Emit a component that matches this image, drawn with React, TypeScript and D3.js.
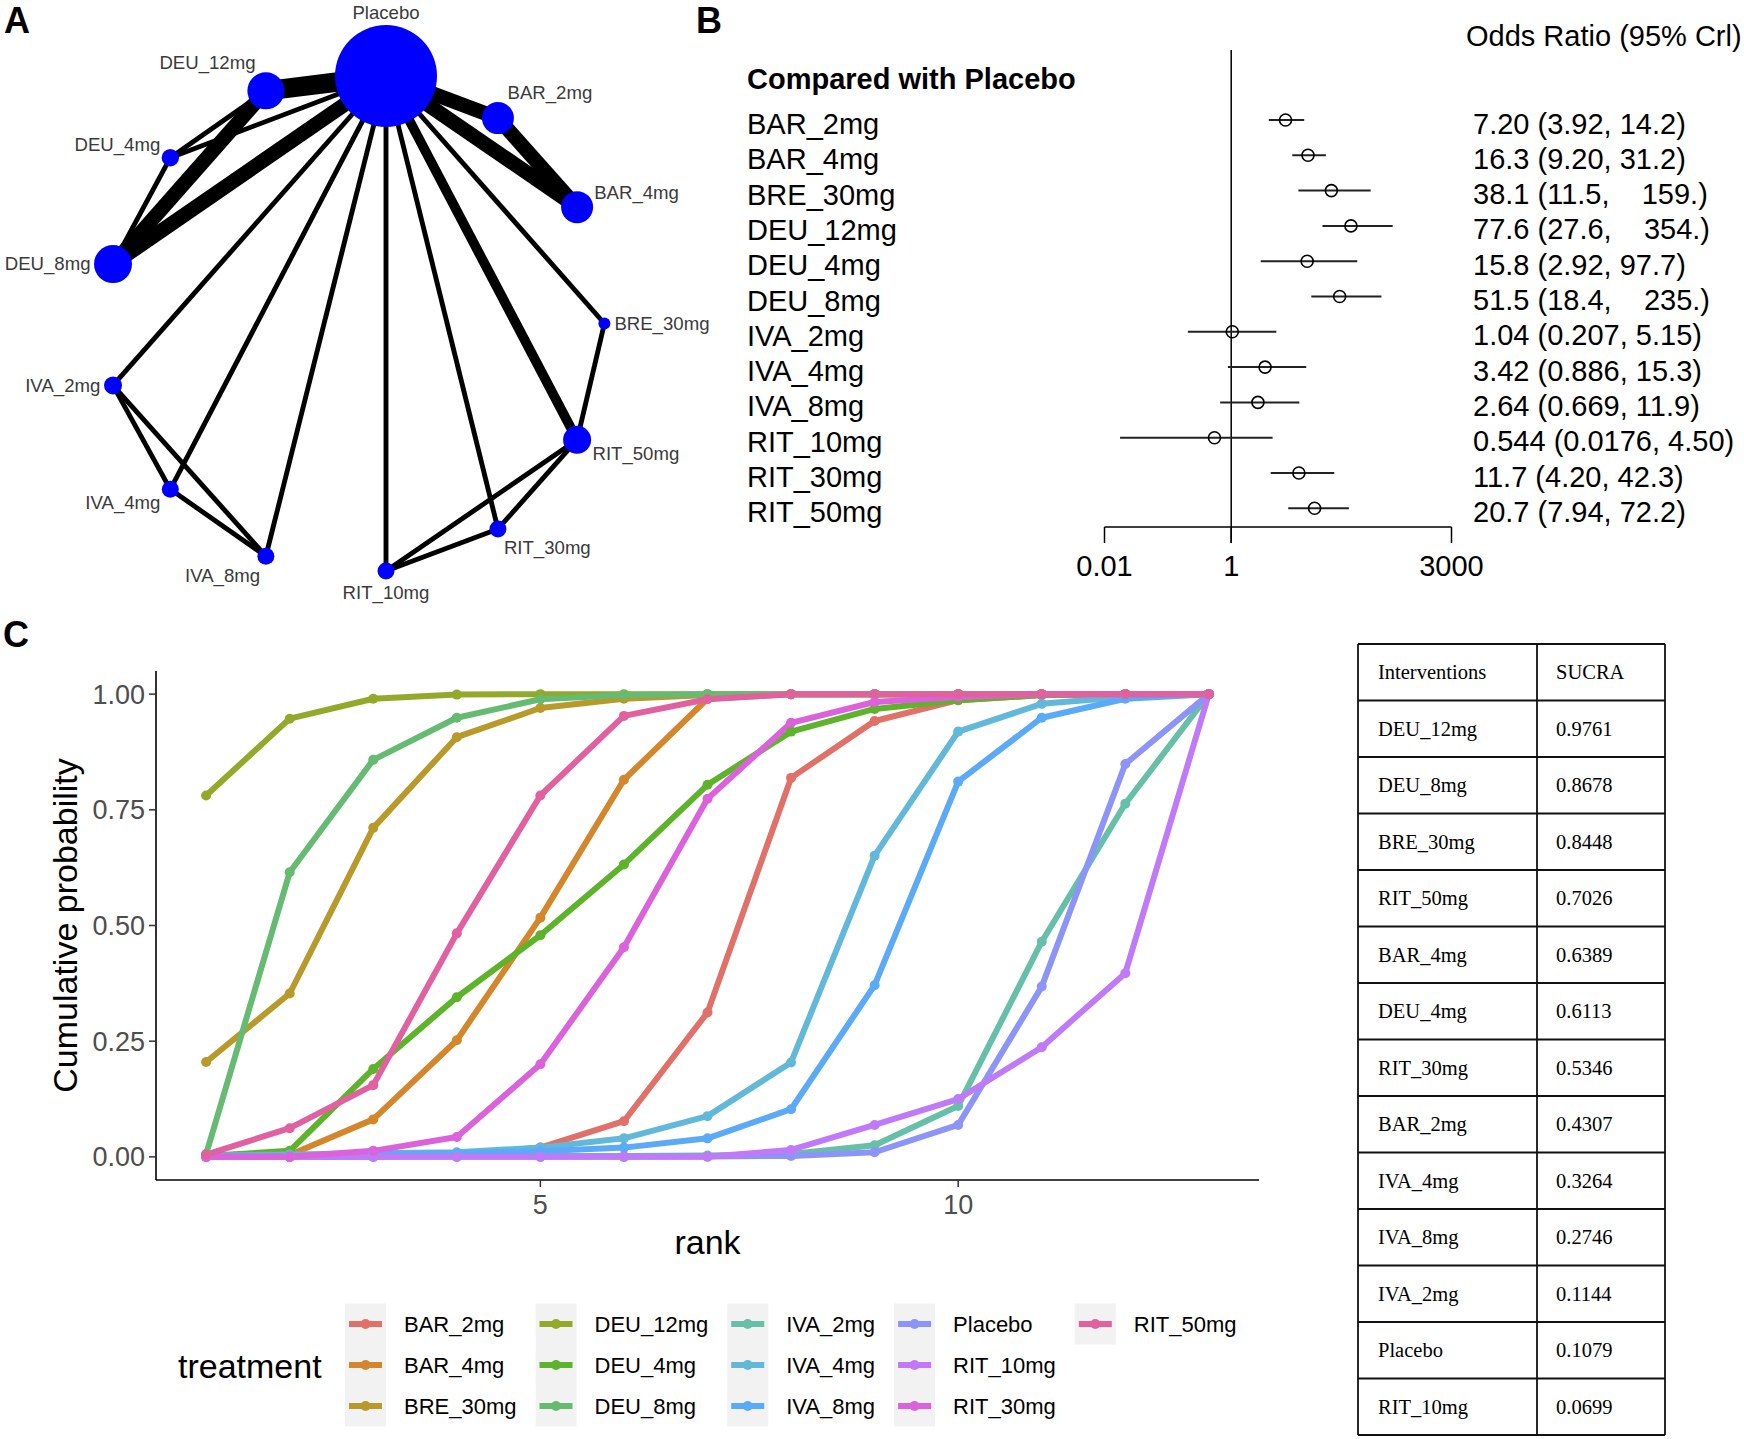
import React from "react";
import * as d3 from "d3";

const W = 1744;
const H = 1439;
const SANS = '"Liberation Sans", Arial, sans-serif';
const SERIF = '"Liberation Serif", "Times New Roman", serif';

// ---------- Panel A: network of comparisons ----------
const netNodes = ["Placebo", "BAR_2mg", "BAR_4mg", "BRE_30mg", "RIT_50mg", "RIT_30mg", "RIT_10mg", "IVA_8mg", "IVA_4mg", "IVA_2mg", "DEU_8mg", "DEU_4mg", "DEU_12mg"];
// circular layout coordinates (igraph style, -1..1)
const netLayoutX = [0, 0.41, 0.7, 0.8, 0.7, 0.41, 0, -0.44, -0.79, -1, -1, -0.79, -0.44];
const netLayoutY = [-1, -0.83, -0.47, 0, 0.47, 0.83, 1, 0.94, 0.67, 0.25, -0.24, -0.67, -0.94];
const netNodeWeight = [1020, 320, 320, 120, 280, 170, 170, 170, 170, 180, 380, 174, 370];
const netEdges: [string, string, number][] = [
  ["Placebo", "DEU_12mg", 4],
  ["Placebo", "DEU_8mg", 3],
  ["DEU_12mg", "DEU_8mg", 3],
  ["Placebo", "DEU_4mg", 1],
  ["DEU_4mg", "DEU_12mg", 1],
  ["DEU_4mg", "DEU_8mg", 1],
  ["Placebo", "BAR_2mg", 3],
  ["Placebo", "BAR_4mg", 3],
  ["BAR_2mg", "BAR_4mg", 3],
  ["Placebo", "BRE_30mg", 1],
  ["Placebo", "RIT_50mg", 2],
  ["Placebo", "RIT_30mg", 1],
  ["Placebo", "RIT_10mg", 1],
  ["Placebo", "IVA_8mg", 1],
  ["Placebo", "IVA_4mg", 1],
  ["Placebo", "IVA_2mg", 1],
  ["BRE_30mg", "RIT_50mg", 1],
  ["RIT_50mg", "RIT_30mg", 1],
  ["RIT_50mg", "RIT_10mg", 1],
  ["RIT_30mg", "RIT_10mg", 1],
  ["IVA_2mg", "IVA_4mg", 1],
  ["IVA_2mg", "IVA_8mg", 1],
  ["IVA_4mg", "IVA_8mg", 1],
];

// ---------- Panel B: forest plot ----------
const orNames = ["BAR_2mg", "BAR_4mg", "BRE_30mg", "DEU_12mg", "DEU_4mg", "DEU_8mg", "IVA_2mg", "IVA_4mg", "IVA_8mg", "RIT_10mg", "RIT_30mg", "RIT_50mg"];
const orEst = [7.2, 16.3, 38.1, 77.6, 15.8, 51.5, 1.04, 3.42, 2.64, 0.544, 11.7, 20.7];
const orLow = [3.92, 9.2, 11.5, 27.6, 2.92, 18.4, 0.207, 0.886, 0.669, 0.0176, 4.2, 7.94];
const orHigh = [14.2, 31.2, 159, 354, 97.7, 235, 5.15, 15.3, 11.9, 4.5, 42.3, 72.2];
const orText = [
  "7.20 (3.92, 14.2)",
  "16.3 (9.20, 31.2)",
  "38.1 (11.5,    159.)",
  "77.6 (27.6,    354.)",
  "15.8 (2.92, 97.7)",
  "51.5 (18.4,    235.)",
  "1.04 (0.207, 5.15)",
  "3.42 (0.886, 15.3)",
  "2.64 (0.669, 11.9)",
  "0.544 (0.0176, 4.50)",
  "11.7 (4.20, 42.3)",
  "20.7 (7.94, 72.2)",
];
const orTicks = [0.01, 1, 3000];

// ---------- Panel C: cumulative rank probabilities ----------
const ranks = [1, 2, 3, 4, 5, 6, 7, 8, 9, 10, 11, 12, 13];
const treatments = ["BAR_2mg", "BAR_4mg", "BRE_30mg", "DEU_12mg", "DEU_4mg", "DEU_8mg", "IVA_2mg", "IVA_4mg", "IVA_8mg", "Placebo", "RIT_10mg", "RIT_30mg", "RIT_50mg"];
const treatmentColors = ["#E07068", "#D4872A", "#B89A2A", "#94A82A", "#5DB32A", "#66BB72", "#66BFA8", "#62B8D8", "#5AAAF8", "#8C94F8", "#C07AF8", "#DC62DC", "#E060A0"];
const cumBAR_2mg = [0, 0, 0.001, 0.004, 0.02, 0.077, 0.312, 0.819, 0.942, 0.987, 0.998, 1, 1];
const cumBAR_4mg = [0, 0.004, 0.081, 0.252, 0.517, 0.815, 0.99, 1, 1, 1, 1, 1, 1];
const cumBRE_30mg = [0.205, 0.353, 0.711, 0.907, 0.97, 0.99, 0.998, 1, 1, 1, 1, 1, 1];
const cumDEU_12mg = [0.781, 0.947, 0.99, 0.999, 1, 1, 1, 1, 1, 1, 1, 1, 1];
const cumDEU_4mg = [0.002, 0.013, 0.19, 0.345, 0.479, 0.632, 0.804, 0.919, 0.968, 0.987, 0.998, 1, 1];
const cumDEU_8mg = [0.006, 0.615, 0.858, 0.949, 0.989, 0.998, 1, 1, 1, 1, 1, 1, 1];
const cumIVA_2mg = [0.001, 0.001, 0.001, 0.002, 0.002, 0.002, 0.003, 0.006, 0.025, 0.11, 0.465, 0.763, 1];
const cumIVA_4mg = [0.003, 0.005, 0.008, 0.01, 0.02, 0.04, 0.088, 0.204, 0.651, 0.919, 0.979, 0.994, 1];
const cumIVA_8mg = [0.001, 0.002, 0.005, 0.008, 0.012, 0.02, 0.04, 0.103, 0.371, 0.811, 0.949, 0.99, 1];
const cumPlacebo = [0, 0, 0, 0, 0, 0, 0.001, 0.002, 0.01, 0.069, 0.368, 0.849, 1];
const cumRIT_10mg = [0, 0, 0, 0, 0, 0, 0, 0.015, 0.069, 0.125, 0.237, 0.397, 1];
const cumRIT_30mg = [0, 0, 0.013, 0.043, 0.2, 0.453, 0.774, 0.938, 0.983, 0.994, 1, 1, 1];
const cumRIT_50mg = [0.005, 0.062, 0.155, 0.483, 0.781, 0.953, 0.989, 1, 1, 1, 1, 1, 1];
const cumSeries = [cumBAR_2mg, cumBAR_4mg, cumBRE_30mg, cumDEU_12mg, cumDEU_4mg, cumDEU_8mg, cumIVA_2mg, cumIVA_4mg, cumIVA_8mg, cumPlacebo, cumRIT_10mg, cumRIT_30mg, cumRIT_50mg];
const yTicks = [0, 0.25, 0.5, 0.75, 1];
const xTicks = [5, 10];

// ---------- SUCRA table ----------
const sucraNames = ["DEU_12mg", "DEU_8mg", "BRE_30mg", "RIT_50mg", "BAR_4mg", "DEU_4mg", "RIT_30mg", "BAR_2mg", "IVA_4mg", "IVA_8mg", "IVA_2mg", "Placebo", "RIT_10mg"];
const sucraValues = ["0.9761", "0.8678", "0.8448", "0.7026", "0.6389", "0.6113", "0.5346", "0.4307", "0.3264", "0.2746", "0.1144", "0.1079", "0.0699"];

function textWidth(s: string, font: string) {
  const c = document.createElement("canvas").getContext("2d");
  if (!c) return s.length * 11;
  c.font = font;
  return c.measureText(s).width;
}

function PanelLabel({ x, y, t }: { x: number; y: number; t: string }) {
  return (
    <text x={x} y={y} fontFamily={SANS} fontWeight="bold" fontSize={36} fill="#000">
      {t}
    </text>
  );
}

function Network() {
  const xs = d3.scaleLinear().domain([-1, 1]).range([113, 659]);
  const ys = d3.scaleLinear().domain([-1, 1]).range([76, 571]);
  const rs = d3.scaleLinear().domain([0, d3.max(netNodeWeight) as number]).range([0, 51]);
  const ws = d3.scaleLinear().domain([0, 4]).range([0, 19.5]);
  const pos = new Map(netNodes.map((n, i) => [n, { x: xs(netLayoutX[i]), y: ys(netLayoutY[i]), r: rs(netNodeWeight[i]) }]));
  const c0 = { x: xs(0), y: ys(0) };
  return (
    <g>
      {netEdges.map(([a, b, n], i) => {
        const p = pos.get(a)!;
        const q = pos.get(b)!;
        return <line key={i} x1={p.x} y1={p.y} x2={q.x} y2={q.y} stroke="#000" strokeWidth={ws(n)} />;
      })}
      {netNodes.map((n) => {
        const p = pos.get(n)!;
        return <circle key={n} cx={p.x} cy={p.y} r={p.r} fill="#0000FF" />;
      })}
      {netNodes.map((n) => {
        const p = pos.get(n)!;
        const a = Math.atan2(p.y - c0.y, p.x - c0.x);
        const co = Math.cos(a);
        const si = Math.sin(a);
        const anchor = co > 0.25 ? "start" : co < -0.25 ? "end" : "middle";
        const f = Math.min(1, Math.max(0, (Math.abs(si) - 0.2) / 0.3));
        const lx = anchor === "middle" ? p.x : p.x + co * (p.r + 4);
        const ly = p.y + si * (p.r + 13) * f + 6.6;
        return (
          <text key={n} x={lx} y={ly} textAnchor={anchor} fontFamily={SANS} fontSize={18.6} fill="#3a3a3a">
            {n}
          </text>
        );
      })}
    </g>
  );
}

function Forest() {
  const xs = d3.scaleLog().domain([0.01, 3000]).range([1104.5, 1451.5]);
  const ys = d3.scalePoint<string>().domain(orNames).range([120, 508.3]);
  const axisY = 527;
  return (
    <g fontFamily={SANS} fontSize={29} fill="#000">
      <text x={1466} y={46}>Odds Ratio (95% Crl)</text>
      <text x={747} y={89} fontWeight="bold">Compared with Placebo</text>
      <line x1={xs(1)} x2={xs(1)} y1={50} y2={543} stroke="#000" strokeWidth={1.5} />
      <line x1={xs(0.01)} x2={xs(3000)} y1={axisY} y2={axisY} stroke="#000" strokeWidth={1.5} />
      {orTicks.map((t) => (
        <g key={t}>
          <line x1={xs(t)} x2={xs(t)} y1={axisY} y2={543} stroke="#000" strokeWidth={1.5} />
          <text x={xs(t)} y={576} textAnchor="middle">
            {String(t)}
          </text>
        </g>
      ))}
      {orNames.map((n, i) => {
        const y = ys(n) as number;
        return (
          <g key={n}>
            <text x={747} y={y + 14}>{n}</text>
            <line x1={xs(orLow[i])} x2={xs(orHigh[i])} y1={y} y2={y} stroke="#222" strokeWidth={2} />
            <circle cx={xs(orEst[i])} cy={y} r={6} fill="none" stroke="#000" strokeWidth={1.6} />
            <text x={1473} y={y + 13.5} style={{ whiteSpace: "pre" }}>
              {orText[i]}
            </text>
          </g>
        );
      })}
    </g>
  );
}

function RankPlot() {
  const xs = d3.scaleLinear().domain([0.4, 13.6]).range([156, 1259]);
  const ys = d3.scaleLinear().domain([-0.05, 1.05]).range([1180, 671]);
  const line = d3
    .line<number>()
    .x((_, i) => xs(ranks[i]))
    .y((d) => ys(d));
  const [x0, x1] = xs.range();
  const [y0, y1] = ys.range();

  // legend layout: 5 columns x 3 rows, filled by column
  const legFont = `22px ${SANS}`;
  const keyW = 41;
  const keyH = 41;
  const legTop = 1303.5;
  const cols: number[][] = [];
  treatments.forEach((_, i) => {
    const c = Math.floor(i / 3);
    if (!cols[c]) cols[c] = [];
    cols[c].push(i);
  });
  const colX: number[] = [];
  let cx = 345;
  cols.forEach((idx) => {
    colX.push(cx);
    const maxW = d3.max(idx, (i) => textWidth(treatments[i], legFont)) as number;
    cx += keyW + 18 + maxW + 19;
  });

  return (
    <g fontFamily={SANS}>
      {cumSeries.map((s, i) => (
        <path key={treatments[i]} d={line(s) as string} fill="none" stroke={treatmentColors[i]} strokeWidth={6} strokeLinejoin="round" />
      ))}
      {cumSeries.map((s, i) => (
        <g key={treatments[i]} fill={treatmentColors[i]}>
          {s.map((v, j) => (
            <circle key={j} cx={xs(ranks[j])} cy={ys(v)} r={5} />
          ))}
        </g>
      ))}
      <line x1={x0} x2={x0} y1={y0} y2={y1} stroke="#000" strokeWidth={1.6} />
      <line x1={x0} x2={x1} y1={y0} y2={y0} stroke="#000" strokeWidth={1.6} />
      {yTicks.map((t) => (
        <g key={t}>
          <line x1={x0 - 7} x2={x0} y1={ys(t)} y2={ys(t)} stroke="#333" strokeWidth={1.5} />
          <text x={x0 - 11} y={ys(t) + 9.5} textAnchor="end" fontSize={27} fill="#4D4D4D">
            {t.toFixed(2)}
          </text>
        </g>
      ))}
      {xTicks.map((t) => (
        <g key={t}>
          <line x1={xs(t)} x2={xs(t)} y1={y0} y2={y0 + 7} stroke="#333" strokeWidth={1.5} />
          <text x={xs(t)} y={1214} textAnchor="middle" fontSize={27} fill="#4D4D4D">
            {t}
          </text>
        </g>
      ))}
      <text x={(x0 + x1) / 2} y={1254} textAnchor="middle" fontSize={34} fill="#000">
        rank
      </text>
      <text transform={`translate(77,${(y0 + y1) / 2}) rotate(-90)`} textAnchor="middle" fontSize={34} fill="#000">
        Cumulative probability
      </text>

      <text x={178} y={1378} fontSize={34} fill="#000">
        treatment
      </text>
      {cols.map((idx, c) => (
        <g key={c}>
          <rect x={colX[c]} y={legTop} width={keyW} height={keyH * idx.length} fill="#F2F2F2" />
          {idx.map((i, r) => {
            const yc = legTop + keyH * r + keyH / 2;
            return (
              <g key={i}>
                <line x1={colX[c] + 4} x2={colX[c] + keyW - 4} y1={yc} y2={yc} stroke={treatmentColors[i]} strokeWidth={6} />
                <circle cx={colX[c] + keyW / 2} cy={yc} r={5} fill={treatmentColors[i]} />
                <text x={colX[c] + keyW + 18} y={yc + 8} fontSize={22} fill="#000">
                  {treatments[i]}
                </text>
              </g>
            );
          })}
        </g>
      ))}
    </g>
  );
}

function SucraTable() {
  const left = 1358;
  const mid = 1537;
  const right = 1665;
  const top = 644;
  const rows = ["Interventions", ...sucraNames];
  const vals = ["SUCRA", ...sucraValues];
  const ys = d3.scaleLinear().domain([0, rows.length]).range([top, 1435]);
  return (
    <g fontFamily={SERIF} fontSize={20.5} fill="#000">
      {rows.map((r, i) => {
        const yc = (ys(i) + ys(i + 1)) / 2;
        return (
          <g key={i}>
            <text x={left + 20} y={yc + 7}>{r}</text>
            <text x={mid + 19} y={yc + 7}>{vals[i]}</text>
          </g>
        );
      })}
      {d3.range(rows.length + 1).map((i) => (
        <line key={i} x1={left} x2={right} y1={ys(i)} y2={ys(i)} stroke="#111" strokeWidth={1.8} />
      ))}
      {[left, mid, right].map((x) => (
        <line key={x} x1={x} x2={x} y1={ys(0)} y2={ys(rows.length)} stroke="#111" strokeWidth={1.8} />
      ))}
    </g>
  );
}

export default function App() {
  return (
    <svg
      width={W}
      height={H}
      viewBox={`0 0 ${W} ${H}`}
      style={{ position: "absolute", left: 0, top: 0, display: "block", background: "#fff" }}
    >
      <rect width={W} height={H} fill="#fff" />
      <Network />
      <Forest />
      <RankPlot />
      <SucraTable />
      <PanelLabel x={4} y={33} t="A" />
      <PanelLabel x={696} y={33} t="B" />
      <PanelLabel x={3} y={647} t="C" />
    </svg>
  );
}
